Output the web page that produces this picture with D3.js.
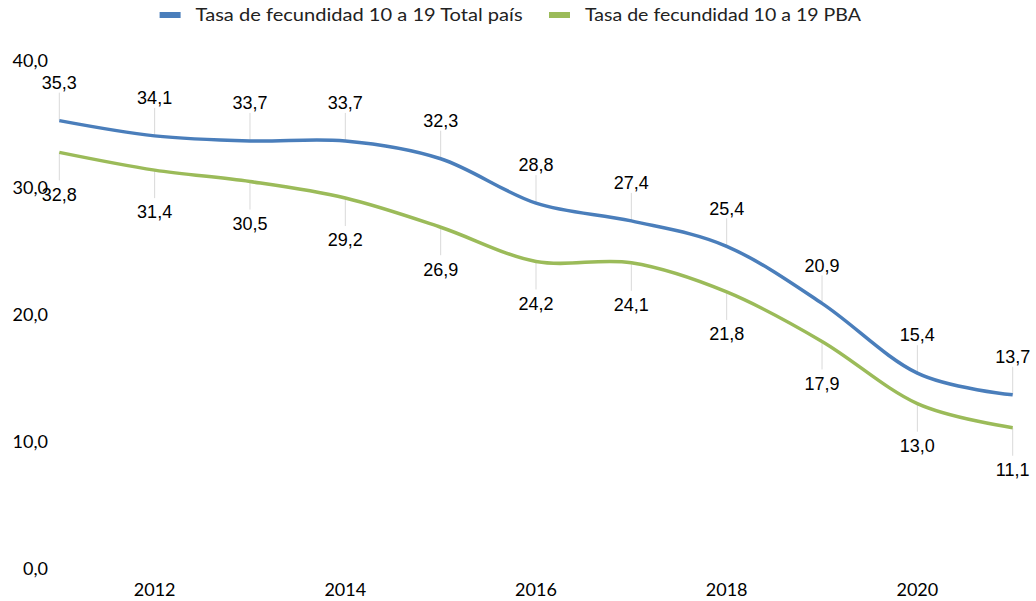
<!DOCTYPE html>
<html>
<head>
<meta charset="utf-8">
<script src="https://cdn.jsdelivr.net/npm/d3@7"></script>
<style>
  body { margin: 0; background: #fff; }
  svg { display: block; }
</style>
</head>
<body>
<svg id="chart" width="1036" height="601"></svg>
<script>
var years = [2011, 2012, 2013, 2014, 2015, 2016, 2017, 2018, 2019, 2020, 2021]
var totalPais = [35.3, 34.1, 33.7, 33.7, 32.3, 28.8, 27.4, 25.4, 20.9, 15.4, 13.7]
var pba = [32.8, 31.4, 30.5, 29.2, 26.9, 24.2, 24.1, 21.8, 17.9, 13.0, 11.1]
var yTicks = [0, 10, 20, 30, 40]
var xTicks = [2012, 2014, 2016, 2018, 2020]
var seriesNames = ["Tasa de fecundidad 10 a 19 Total país", "Tasa de fecundidad 10 a 19 PBA"]
var colors = ["#4a7ebb", "#9bbb59"]

var svg = d3.select("#chart")
var fmt = function(v) { return d3.format(".1f")(v).replace(".", ",") }

var x = d3.scaleLinear().domain([2011, 2021]).range([59.3, 1012.7])
var y = d3.scaleLinear().domain([0, 40]).range([568.6, 61])

// y axis labels (no line)
svg.append("g").selectAll("text")
    .data(yTicks)
    .join("text")
    .attr("x", 48)
    .attr("y", function(d) { return y(d) })
    .attr("dy", "0.35em")
    .attr("text-anchor", "end")
    .style("font-family", "Lato, 'Open Sans', sans-serif")
    .style("font-size", "18px")
    .style("fill", "#000")
    .text(fmt)

// x axis labels
svg.append("g").selectAll("text")
    .data(xTicks)
    .join("text")
    .attr("x", function(d) { return x(d) })
    .attr("y", 590)
    .attr("dy", "0.35em")
    .attr("text-anchor", "middle")
    .style("font-family", "Lato, 'Open Sans', sans-serif")
    .style("font-size", "18px")
    .style("fill", "#000")
    .text(function(d) { return d })

var series = [
    { name: seriesNames[0], values: totalPais, color: colors[0], above: true },
    { name: seriesNames[1], values: pba, color: colors[1], above: false }
]

var upOff = 38, downOff = 42

// leader lines
series.forEach(function(s) {
    svg.append("g").selectAll("line")
        .data(s.values)
        .join("line")
        .attr("x1", function(d, i) { return x(years[i]) })
        .attr("x2", function(d, i) { return x(years[i]) })
        .attr("y1", function(d) { return y(d) })
        .attr("y2", function(d) { return s.above ? y(d) - upOff + 10 : y(d) + downOff - 14 })
        .style("stroke", "#d9d9d9")
        .style("stroke-width", 1)
})

var line = d3.line()
    .x(function(d, i) { return x(years[i]) })
    .y(function(d) { return y(d) })
    .curve(d3.curveCardinal.tension(0))

series.forEach(function(s) {
    svg.append("path")
        .datum(s.values)
        .attr("d", line)
        .style("fill", "none")
        .style("stroke", s.color)
        .style("stroke-width", 3.5)
})

// data labels
series.forEach(function(s) {
    svg.append("g").selectAll("text")
        .data(s.values)
        .join("text")
        .attr("x", function(d, i) { return x(years[i]) })
        .attr("y", function(d) { return s.above ? y(d) - upOff : y(d) + downOff })
        .attr("dy", "0.35em")
        .attr("text-anchor", "middle")
        .style("font-family", "'Liberation Sans', Arial, sans-serif")
        .style("font-size", "18px")
        .style("fill", "#000")
        .text(fmt)
})

// legend
var legendX = [159.6, 549]
var legendW = [327, 276]
series.forEach(function(s, i) {
    var g = svg.append("g").attr("transform", "translate(" + legendX[i] + ",15)")
    g.append("rect")
        .attr("x", 0).attr("y", -3)
        .attr("width", 21).attr("height", 6)
        .style("fill", s.color)
    g.append("text")
        .attr("x", 36)
        .attr("y", 0)
        .attr("dy", "0.35em")
        .attr("textLength", legendW[i])
        .attr("lengthAdjust", "spacingAndGlyphs")
        .style("font-family", "Lato, 'Open Sans', sans-serif")
        .style("font-size", "18px")
        .style("fill", "#222")
        .text(s.name)
})
</script>
</body>
</html>
